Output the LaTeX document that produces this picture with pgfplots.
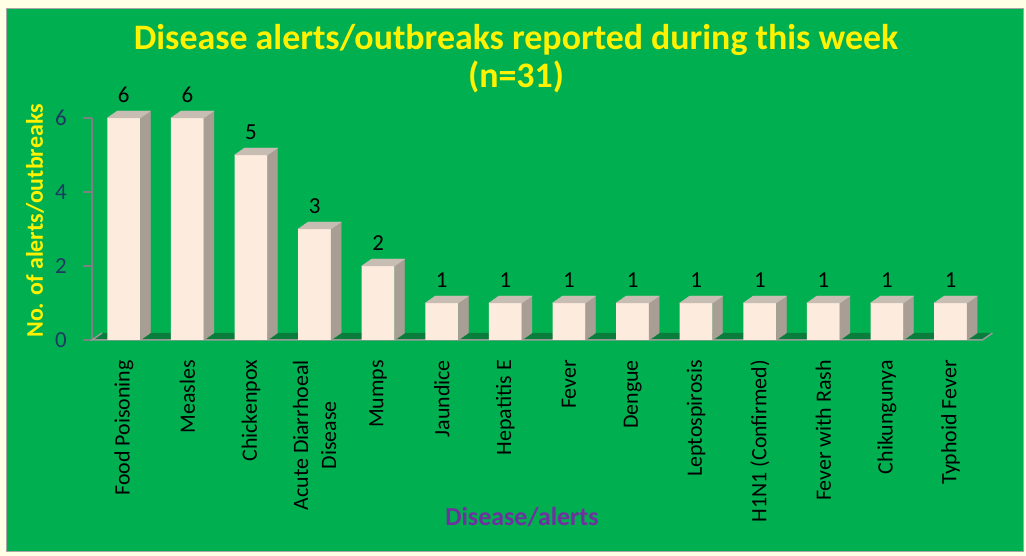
\documentclass[border=0pt]{standalone}
\usepackage{fontspec}
\setmainfont{Carlito}
\usepackage{pgfplots}
\usepackage{pgfplotstable}
\pgfplotsset{compat=1.18}
\definecolor{bg}{HTML}{00B050}
\definecolor{outerbg}{HTML}{FFFFE6}
\definecolor{frontc}{HTML}{FDEBDD}
\definecolor{sidec}{HTML}{A89E94}
\definecolor{topc}{HTML}{C8BDB2}
\definecolor{floorc}{HTML}{0A7D3C}
\definecolor{tickblue}{HTML}{1F3864}
\definecolor{purp}{HTML}{7030A0}
\pgfdeclareplotmark{empty}{}
\pgfplotstableread{
x v
0 6
1 6
2 5
3 3
4 2
5 1
6 1
7 1
8 1
9 1
10 1
11 1
12 1
13 1
}\datatable
\begin{document}
\begin{tikzpicture}
\useasboundingbox (0,0) rectangle (1026bp,556bp);
\fill[outerbg] (0,0) rectangle (1026bp,556bp);
\filldraw[fill=bg, draw=gray!70, line width=1bp] (6bp,4bp) rectangle (1023bp,547bp);
\node[font=\fontsize{36}{38}\selectfont\bfseries, text=yellow, align=center] at (516bp,497bp) {Disease alerts/outbreaks reported during this week\\(n=31)};
\node[rotate=90, font=\fontsize{24}{28}\selectfont\bfseries, text=yellow] at (35bp,335bp) {No. of alerts/outbreaks};
\node[font=\fontsize{26}{28}\selectfont\bfseries, text=purp, anchor=base] at (522bp,31bp) {Disease/alerts};
\begin{axis}[
  at={(92bp,216bp)}, anchor=south west,
  scale only axis, width=890.4bp, height=222bp,
  xmin=-0.5, xmax=13.5, ymin=0, ymax=6,
  clip=false,
  axis x line*=bottom, axis y line*=left,
  x axis line style={draw=none},
  y axis line style={draw=gray, line width=1.2bp},
  xtick={0,...,13},
  xticklabels={Food Poisoning, Measles, Chickenpox, {Acute Diarrhoeal\\Disease}, Mumps, Jaundice, Hepatitis E, Fever, Dengue, Leptospirosis, H1N1 (Confirmed), Fever with Rash, Chikungunya, Typhoid Fever},
  xticklabel style={rotate=90, anchor=east, align=center, inner sep=0pt, font=\fontsize{22}{28}\selectfont, text=black},
  xticklabel shift=11bp,
  xtick style={draw=none},
  ytick={0,2,4,6},
  yticklabel style={text opacity=0, opacity=0},
  ytick style={draw=gray, line width=1.2bp},
  tick align=outside,
  major tick length=9bp,
  /pgf/number format/assume math mode=true,
]
\fill[floorc] (axis cs:-0.5,0) -- (axis cs:13.5,0) -- ([shift={(10bp,7bp)}]axis cs:13.5,0) -- ([shift={(10bp,7bp)}]axis cs:-0.5,0) -- cycle;
\draw[gray!80, line width=1.5bp] ([shift={(10bp,7bp)}]axis cs:-0.5,0) -- (axis cs:-0.5,0) -- (axis cs:13.5,0) -- ([shift={(10bp,7bp)}]axis cs:13.5,0);
\pgfplotsinvokeforeach{0,2,4,6}{
  \node[anchor=east, inner sep=0pt, font=\fontsize{23}{24}\selectfont, text=tickblue] at ([xshift=-25bp]axis cs:-0.5,#1) {#1};
}
\addplot[only marks, scatter, mark=empty,
  visualization depends on={\thisrow{v} \as \ry},
  scatter/@pre marker code/.code={
    \pgfmathsetmacro\hb{7-\ry*37}
    \pgfmathsetmacro\hf{-\ry*37}
    \fill[sidec] (16.5bp,0bp) -- (26.5bp,7bp) -- (26.5bp,\hb bp) -- (16.5bp,\hf bp) -- cycle;
    \fill[topc] (-16.5bp,0bp) -- (16.5bp,0bp) -- (26.5bp,7bp) -- (-6.5bp,7bp) -- cycle;
  },
  scatter/@post marker code/.code={}
] table[x=x, y=v] {\datatable};
\addplot[ybar, bar width=33bp, fill=frontc, draw=none,
  nodes near coords,
  nodes near coords style={font=\fontsize{23}{24}\selectfont, text=black, anchor=south, inner sep=0pt, yshift=15bp},
] table[x=x, y=v] {\datatable};
\end{axis}
\end{tikzpicture}
\end{document}
